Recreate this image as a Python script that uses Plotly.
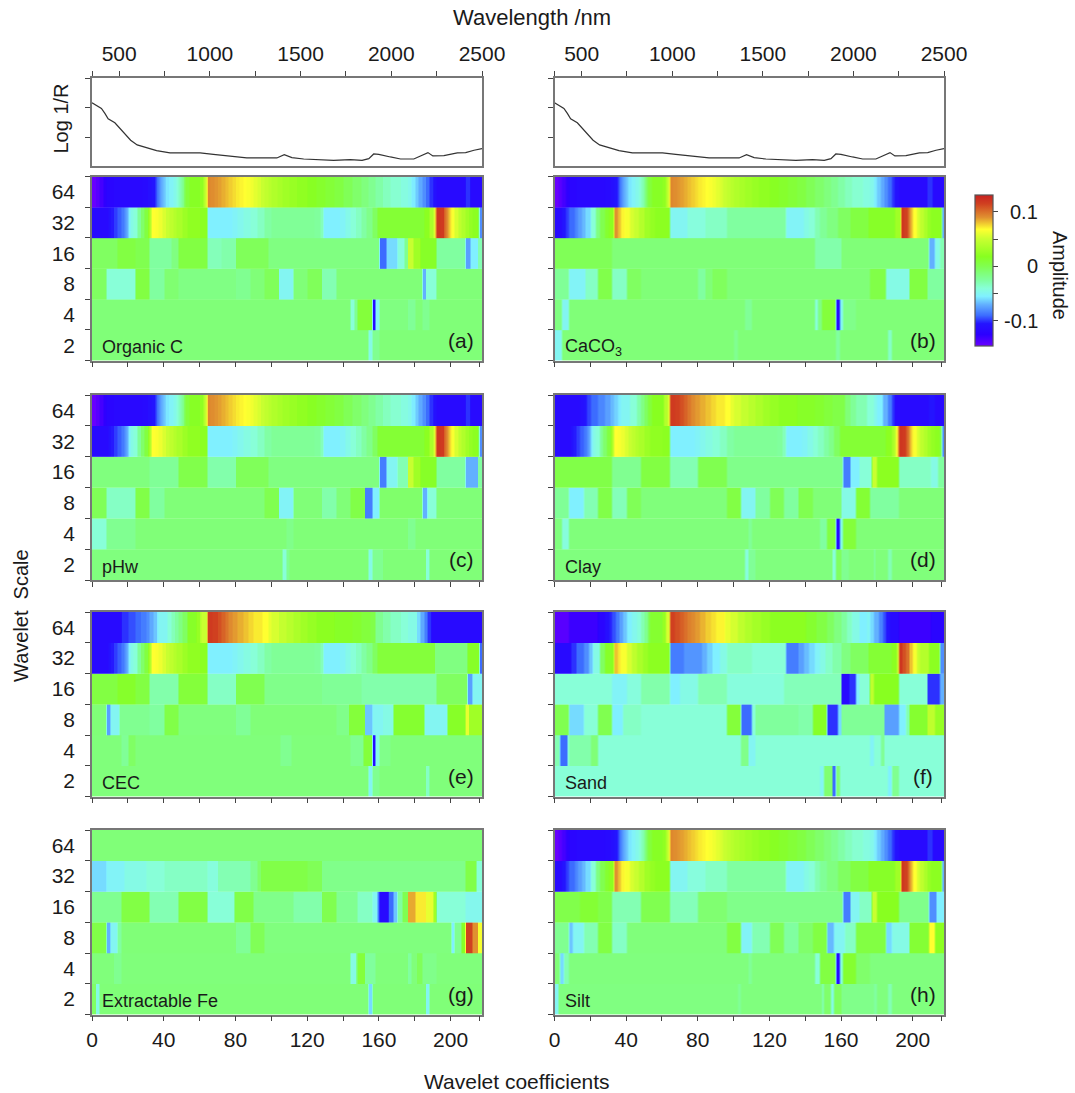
import plotly.graph_objs as go

W, H = 1075, 1093
FONT = 'Liberation Sans'
N_COEF = 218

# reflectance spectrum (same mean curve in both columns)
spectrum_nm = [350, 375, 402, 421, 439, 476, 504, 531, 563, 599, 651, 706, 780, 946, 1019, 1130, 1203, 1369,
               1410, 1452, 1517, 1682, 1774, 1839, 1876, 1903, 1931, 1995, 2051, 2124, 2161, 2202, 2229, 2290,
               2364, 2410, 2456, 2500]
spectrum_log = [2.175, 2.096, 1.983, 1.814, 1.633, 1.497, 1.305, 1.102, 0.91, 0.751, 0.65, 0.559, 0.48, 0.48,
                0.435, 0.367, 0.311, 0.311, 0.424, 0.322, 0.277, 0.232, 0.254, 0.232, 0.288, 0.446, 0.435,
                0.345, 0.277, 0.277, 0.379, 0.492, 0.379, 0.39, 0.48, 0.492, 0.571, 0.627]

# amplitude rows: (first coefficient, amplitude), held until the next pair
tail_64 = [(100, .038), (103, .034), (106, .03), (110, .026), (114, .022), (120, .017), (125, .013), (130, .009), (135, .005),
           (140, -.002), (145, -.008), (150, -.014), (154, -.02), (158, -.027), (162, -.033), (166, -.038), (172, -.043),
           (176, -.047), (178, -.056), (180, -.064), (182, -.072), (184, -.08), (186, -.09), (188, -.1), (190, -.108),
           (192, -.115), (208, -.1), (211, -.115)]
oc_64 = [(0, -.145), (2, -.14), (4, -.133), (6, -.126), (8, -.12), (12, -.117), (28, -.115), (31, -.11), (33, -.105),
         (35, -.095), (36, -.088), (37, -.08), (38, -.072), (39, -.067), (40, -.062), (41, -.057), (43, -.052), (45, -.047),
         (47, -.04), (48, -.033), (49, -.027), (50, -.018), (51, -.005), (52, .008), (54, .016), (60, .022), (62, .04),
         (63, .055), (64, .093), (66, .091), (68, .089), (70, .087), (72, .084), (74, .081), (76, .078), (78, .075),
         (80, .072), (82, .07), (84, .068), (86, .066), (88, .063), (90, .059), (92, .055), (94, .05), (96, .046),
         (98, .042)] + tail_64
mid_32 = [(64, -.055), (78, -.052), (81, -.048), (84, -.044), (88, -.04), (92, -.034), (96, -.026), (100, -.022), (124, -.024),
          (127, -.032), (129, -.055), (138, -.052), (141, -.046), (144, -.04), (147, -.034), (150, -.026), (153, -.018),
          (156, -.005)]
head_32 = [(0, -.115), (9, -.108), (10, -.104), (12, -.098), (14, -.092), (16, -.086), (18, -.078), (19, -.07), (20, -.055),
           (21, -.045), (23, -.04), (25, -.022), (27, -.008), (29, .006), (31, .022), (32, .04), (33, .068), (35, .066),
           (37, .062), (39, .056), (41, .05), (43, .045), (45, .04), (47, .035), (50, .028), (53, .022), (60, .02)]
end_32 = [(159, .01), (185, .02), (188, .035), (190, .055), (191, .08), (192, .12), (194, .118), (196, .105), (197, .095),
          (198, .085), (199, .075), (200, .066), (202, .055), (204, .045), (206, .038), (208, .03), (210, .024), (212, .02),
          (215, 0.0), (216, -.08)]
oc_32 = head_32 + mid_32 + end_32
oc_16 = [(0, -.005), (14, .005), (24, 0.0), (32, -.025), (44, -.015), (48, .005), (64, -.032), (72, -.028), (80, -.003),
         (98, -.015), (160, -.09), (164, -.06), (170, -.042), (174, -.02), (176, .05), (179, .03), (183, .015), (192, -.025),
         (208, -.075), (211, -.055), (215, -.03)]
oc_8 = [(0, -.005), (8, -.04), (24, .005), (32, -.025), (40, -.01), (48, -.016), (80, -.02), (88, -.012), (96, -.003),
        (104, -.05), (112, -.012), (120, -.003), (128, -.03), (136, -.012), (184, -.07), (186, -.04), (192, -.012)]
oc_4 = [(0, -.012), (144, -.04), (146, -.02), (148, .008), (156, -.115), (158, -.05), (160, -.015), (176, -.022),
        (180, -.012), (184, -.02), (188, -.012)]
oc_2 = [(0, -.012), (154, -.045), (156, -.02), (160, -.012)]

ca_64 = oc_64
ca_32 = [(0, -.115), (4, -.105), (6, -.098), (8, -.09), (11, -.082), (13, -.075), (15, -.068), (17, -.06), (20, -.04), (23, -.015),
         (25, 0.0), (28, .012), (30, .02), (33, .09), (35, .08), (37, .07), (39, .065), (42, .055), (44, .05), (47, .04), (50, .03),
         (53, .024), (56, .02), (64, -.05), (74, -.042), (84, -.035), (96, -.025), (129, -.052), (139, -.045), (142, -.04),
         (145, -.03), (148, -.022), (152, -.015), (158, -.005), (165, .005), (175, .015), (190, .03), (193, .12), (195, .115),
         (197, .1), (198, .09), (199, .08), (200, .068), (202, .055), (204, .045), (206, .035), (208, .025), (210, .02), (216, -.07)]
ca_16 = [(0, -.002), (32, -.012), (145, -.028), (160, -.012), (209, -.07), (212, -.045), (215, -.03)]
ca_8 = [(0, -.022), (8, -.052), (17, -.035), (24, .002), (32, -.035), (40, -.005), (48, -.012), (80, -.025), (84, -.012),
        (88, -.004), (96, -.012), (176, .003), (185, -.045), (198, .005), (208, -.025)]
ca_4 = [(0, -.015), (4, -.05), (8, -.012), (106, -.022), (110, -.012), (145, -.04), (147, -.015), (149, .008),
        (157, -.115), (159, -.05), (161, -.018), (168, -.012)]
ca_2 = [(0, -.05), (4, -.012), (100, -.02), (102, -.012), (157, -.025), (159, -.012), (186, -.035), (188, -.012)]

ph_64 = oc_64
ph_32 = oc_32
ph_16 = [(0, -.014), (32, -.022), (48, .002), (64, -.028), (80, -.003), (98, -.015), (160, -.085), (164, -.05), (170, -.03),
         (176, .05), (179, .03), (183, .015), (192, -.025), (208, -.07), (215, -.025)]
ph_8 = [(0, -.002), (8, -.035), (24, .003), (32, -.025), (40, -.012), (96, 0.0), (104, -.052), (112, -.012), (128, -.028),
        (136, -.012), (144, .003), (152, -.085), (156, -.055), (160, -.008), (184, -.07), (187, -.04), (192, -.012)]
ph_4 = [(0, -.04), (8, -.02), (24, -.012), (108, -.018), (112, -.012), (176, -.02), (180, -.012)]
ph_2 = [(0, -.014), (106, -.04), (108, -.02), (110, -.012), (154, -.045), (156, -.02), (162, -.012), (186, -.04), (188, -.012)]

red_64 = [(64, .118), (67, .115), (70, .11), (72, .104), (74, .098), (76, .092), (78, .088), (81, .084), (84, .08), (87, .076),
          (90, .072), (95, .068), (98, .06), (100, .055), (104, .048), (108, .042), (112, .036), (116, .03), (120, .025),
          (125, .02), (135, .015), (145, .012), (150, .007), (155, .003)]
clay_64 = [(0, -.115), (14, -.11), (16, -.105), (18, -.097), (20, -.09), (24, -.082), (28, -.075), (31, -.068), (33, -.062),
           (35, -.056), (37, -.05), (42, -.04), (46, -.028), (48, -.016), (50, -.005), (52, .008), (54, .018), (61, .04),
           (63, .06)] + red_64 + [(162, -.012), (165, -.022), (168, -.03), (174, -.04), (178, -.048), (180, -.055), (183, -.07),
                                  (186, -.085), (188, -.1), (190, -.115), (209, -.105), (212, -.115)]
clay_32 = oc_32
clay_16 = [(0, .003), (32, -.02), (48, .005), (64, -.03), (80, 0.0), (96, -.018), (161, -.085), (165, -.055), (170, -.04),
           (177, .05), (180, .02), (192, -.035), (210, -.045), (214, -.025)]
clay_8 = [(0, -.022), (8, -.055), (16, -.03), (24, .003), (32, -.032), (40, -.002), (48, -.013), (96, .004), (104, -.05),
          (112, -.025), (120, -.002), (128, -.025), (136, 0.0), (144, -.012), (160, -.045), (168, .01), (176, -.025), (192, -.012)]
clay_4 = [(0, -.014), (4, -.042), (8, -.013), (108, -.022), (110, -.013), (148, -.025), (152, .005), (157, -.115),
          (159, -.045), (161, .008), (168, -.012)]
clay_2 = [(0, -.014), (106, -.042), (108, -.022), (112, -.014), (155, -.04), (157, -.005), (160, -.02), (164, -.013),
          (178, -.025), (179, -.013), (186, -.03), (188, -.013)]

cec_64 = [(0, -.115), (16, -.1), (20, -.095), (24, -.09), (27, -.085), (30, -.08), (32, -.072), (34, -.065), (36, -.056),
          (37, -.05), (42, -.04), (44, -.032), (46, -.025), (48, -.015), (50, -.005), (53, .015), (58, .025), (60, .04),
          (61, .05)] + red_64 + [(158, -.02), (162, -.028), (166, -.035), (172, -.04), (176, -.045), (181, -.06), (183, -.072),
                                 (185, -.085), (187, -.1), (189, -.115)]
cec_32 = head_32 + mid_32 + [(159, .008), (191, -.015), (209, .015), (216, -.09)]
cec_16 = [(0, .005), (14, .014), (24, .005), (32, -.028), (48, .008), (64, -.035), (80, 0.0), (96, -.018), (128, -.022),
          (150, -.028), (192, -.005), (209, -.075), (212, -.05)]
cec_8 = [(0, -.012), (8, -.075), (10, -.05), (15, -.02), (32, -.025), (40, .003), (48, -.014), (80, -.022), (88, -.012),
         (136, -.018), (143, .008), (152, -.065), (156, -.05), (162, -.045), (168, .012), (185, -.05), (198, .015),
         (208, .06), (210, .03)]
cec_4 = [(0, -.013), (16, -.022), (20, -.006), (24, -.013), (105, -.02), (111, -.013), (144, -.02), (151, .008),
         (156, -.115), (158, -.045), (160, -.018), (166, -.013)]
cec_2 = [(0, -.013), (154, -.05), (156, -.02), (160, -.013), (186, -.035), (188, -.013)]

sand_64 = [(0, -.14), (8, -.13), (24, -.12), (28, -.11), (30, -.103), (32, -.095), (34, -.085), (36, -.075), (38, -.065),
           (40, -.055), (43, -.048), (46, -.042), (48, -.03), (50, -.02), (52, 0.0), (53, .012), (60, .025), (62, .055),
           (64, .115), (67, .11), (70, .105), (72, .1), (74, .095), (76, .092), (78, .088), (81, .083), (84, .078), (87, .074),
           (90, .07), (95, .06), (98, .054), (102, .045), (106, .038), (110, .032), (115, .026), (120, .02), (140, .012),
           (146, .004), (152, -.005), (156, -.015), (160, -.025), (163, -.035), (166, -.045), (170, -.055), (174, -.05),
           (176, -.06), (178, -.07), (181, -.083), (183, -.095), (185, -.105), (187, -.115), (192, -.13), (210, -.12)]
sand_32 = [(0, -.115), (9, -.1), (12, -.09), (16, -.08), (19, -.065), (21, -.045), (25, -.005), (28, .015), (32, .02),
           (33, .08), (35, .072), (37, .066), (40, .055), (43, .045), (46, .035), (49, .027), (52, .02), (64, -.085), (72, -.078),
           (82, -.07), (85, -.062), (88, -.055), (92, -.045), (96, -.035), (110, -.04), (129, -.085), (136, -.075), (139, -.067),
           (142, -.06), (145, -.052), (148, -.045), (151, -.036), (155, -.028), (160, -.015), (165, -.005), (175, .01), (188, .02),
           (191, .05), (192, .12), (194, .11), (196, .1), (198, .08), (200, .065), (202, .05), (204, .04), (209, .02), (215, -.08)]
sand_16 = [(0, -.04), (32, -.052), (40, -.042), (48, -.028), (64, -.055), (70, -.045), (80, -.03), (96, -.042), (128, -.032),
           (160, -.115), (164, -.1), (168, -.055), (170, -.04), (176, .045), (178, .018), (192, -.04), (208, -.1), (215, -.07)]
sand_8 = [(0, 0.0), (8, -.06), (16, -.04), (24, 0.0), (32, -.055), (38, -.035), (48, -.04), (96, .008), (104, -.09), (110, -.04),
          (112, -.024), (136, -.028), (144, .015), (152, -.1), (158, -.06), (160, -.022), (184, -.075), (192, -.055),
          (196, -.03), (198, .012), (208, .045), (212, .025)]
sand_4 = [(0, -.03), (3, -.09), (7, -.045), (8, -.028), (20, -.012), (24, -.04), (104, -.018), (108, -.05), (112, -.04),
          (176, -.052), (178, -.04), (182, -.022), (184, -.04)]
sand_2 = [(0, -.04), (148, -.05), (150, -.01), (155, -.09), (157, -.012), (159, -.04), (186, -.055), (188, -.02), (192, -.04)]

fe_64 = [(0, -.012)]
fe_32 = [(0, -.06), (8, -.052), (18, -.045), (30, -.04), (40, -.035), (64, -.042), (70, -.03), (88, -.02), (92, -.008), (94, .003),
         (120, -.002), (128, -.018), (208, .003), (214, -.04)]
fe_16 = [(0, -.02), (16, .004), (32, -.03), (48, .004), (64, -.04), (79, .003), (90, -.018), (112, -.028), (128, 0.0),
         (136, -.02), (148, -.035), (156, -.05), (159, -.085), (160, -.115), (165, -.09), (168, -.065), (170, -.025),
         (173, 0.0), (176, .085), (180, .072), (186, .06), (190, .03), (192, -.04), (208, -.048)]
fe_8 = [(0, .003), (8, -.07), (10, -.05), (14, -.025), (16, -.012), (80, -.022), (88, -.002), (96, -.014), (200, -.055),
        (202, -.02), (206, .015), (208, .115), (212, .09), (215, .065)]
fe_4 = [(0, -.013), (12, -.02), (16, -.013), (144, -.045), (147, -.02), (148, .008), (152, -.024), (158, -.013),
        (176, -.025), (178, -.013), (181, -.003), (184, -.018), (192, -.013)]
fe_2 = [(0, -.006), (2, -.045), (4, -.012), (154, -.06), (156, -.012), (186, -.05), (188, -.012)]

silt_64 = oc_64
silt_32 = ca_32
silt_16 = [(0, .002), (14, .01), (24, .002), (32, -.03), (48, 0.0), (64, -.032), (80, -.01), (96, -.018), (161, -.085),
           (165, -.05), (170, -.035), (177, .05), (180, .018), (192, -.018), (209, -.08), (213, -.055)]
silt_8 = [(0, -.02), (8, -.065), (10, -.05), (16, -.03), (24, .004), (32, -.035), (40, -.013), (96, .005), (104, -.052),
          (110, -.03), (120, -.002), (128, -.025), (136, -.008), (144, .005), (152, -.068), (156, -.05), (162, -.035),
          (168, .005), (185, -.06), (188, -.045), (198, .01), (209, .068), (212, .02)]
silt_4 = [(0, -.012), (3, -.06), (5, -.03), (8, -.014), (108, -.022), (110, -.014), (145, -.04), (148, .005), (157, -.115),
          (159, -.04), (161, .012), (168, -.008), (176, -.014)]
silt_2 = [(0, -.05), (2, -.015), (102, -.022), (104, -.014), (149, -.03), (150, -.008), (154, -.045), (156, -.005),
          (160, -.018), (178, -.025), (180, -.014), (186, -.03), (188, -.014)]

scale_labels = ['2', '4', '8', '16', '32', '64']
panel_names = ['Organic C', 'CaCO<sub>3</sub>', 'pHw', 'Clay', 'CEC', 'Sand', 'Extractable Fe', 'Silt']
panel_tags = ['(a)', '(b)', '(c)', '(d)', '(e)', '(f)', '(g)', '(h)']
panel_rows = [
    [oc_2, oc_4, oc_8, oc_16, oc_32, oc_64],
    [ca_2, ca_4, ca_8, ca_16, ca_32, ca_64],
    [ph_2, ph_4, ph_8, ph_16, ph_32, ph_64],
    [clay_2, clay_4, clay_8, clay_16, clay_32, clay_64],
    [cec_2, cec_4, cec_8, cec_16, cec_32, cec_64],
    [sand_2, sand_4, sand_8, sand_16, sand_32, sand_64],
    [fe_2, fe_4, fe_8, fe_16, fe_32, fe_64],
    [silt_2, silt_4, silt_8, silt_16, silt_32, silt_64],
]

# colour stops
zmin, zmax = -0.146, 0.131
color_stops = [(-.146, '#6a00ff'), (-.125, '#2c00ff'), (-.105, '#2414ff'), (-.09, '#3c6cff'), (-.07, '#62b0ff'),
               (-.055, '#80f0ff'), (-.04, '#88ffd8'), (-.025, '#80ffa0'), (-.012, '#80ff78'), (0.0, '#80ff50'),
               (.018, '#88ff20'), (.05, '#c8ff30'), (.068, '#ffff30'), (.09, '#e09030'), (.115, '#d04020'), (.131, '#c82020')]
colorscale = [[(v - zmin) / (zmax - zmin), c] for v, c in color_stops]


def expand(runs):
    row = []
    for i in range(N_COEF):
        val = runs[0][1]
        for start, amp in runs:
            if start <= i:
                val = amp
        row.append(val)
    return row


def fx(px):
    return px / W


def fy(px):
    return 1 - px / H


col_x = [(92, 482), (554.5, 944)]
spec_y = (78, 166)
row_y = [(176.5, 360.5), (395, 580), (612, 796.5), (830, 1014.5)]

line_col = '#777777'
tick_col = '#444444'
txt_col = '#1a1a1a'
font_tick = dict(family=FONT, size=21, color=txt_col)

fig = go.Figure()
layout = {}
n_ax = 0

# spectra on top
for c in range(2):
    n_ax += 1
    fig.add_trace(go.Scatter(x=spectrum_nm, y=spectrum_log, mode='lines', line=dict(color='#333333', width=1.2),
                             showlegend=False, hoverinfo='skip', xaxis=f'x{n_ax}', yaxis=f'y{n_ax}'))
    layout[f'xaxis{n_ax}'] = dict(
        domain=[fx(col_x[c][0]), fx(col_x[c][1])], anchor=f'y{n_ax}', side='top', range=[350, 2500],
        tickmode='array', tickvals=[500, 1000, 1500, 2000, 2500], ticks='outside', ticklen=5, tickcolor=tick_col,
        tickfont=font_tick, showgrid=False, zeroline=False, showline=True, mirror=True, linecolor=line_col, linewidth=1.5,
        ticklabelstandoff=2,
        minor=dict(tickmode='array', tickvals=[350, 750, 1250, 1750, 2250], ticks='outside', ticklen=5,
                   tickcolor=tick_col, showgrid=False))
    layout[f'yaxis{n_ax}'] = dict(
        domain=[fy(spec_y[1]), fy(spec_y[0])], anchor=f'x{n_ax}', range=[0.04, 3.01], tickmode='array',
        tickvals=[1, 2, 3], ticks='outside', ticklen=5, tickcolor=tick_col, showticklabels=False, showgrid=False,
        zeroline=False, showline=True, mirror=True, linecolor=line_col, linewidth=1.5)

# heatmap panels, one trace per scale so that rows keep sharp edges
coef_x = [i + 0.5 for i in range(N_COEF)]
annos = []
for k in range(8):
    r, c = k // 2, k % 2
    n_ax += 1
    for j, runs in enumerate(panel_rows[k]):
        row = expand(runs)
        fig.add_trace(go.Heatmap(x=coef_x, y=[j, j + 0.5, j + 1], z=[row, row], zsmooth='best', coloraxis='coloraxis',
                                 hoverinfo='skip', xaxis=f'x{n_ax}', yaxis=f'y{n_ax}'))
    layout[f'xaxis{n_ax}'] = dict(
        domain=[fx(col_x[c][0]), fx(col_x[c][1])], anchor=f'y{n_ax}', range=[0, 217.5], tickmode='array',
        tickvals=[0, 40, 80, 120, 160, 200], ticks='outside', ticklen=5, tickcolor=tick_col, tickfont=font_tick,
        showticklabels=(r == 3), showgrid=False, zeroline=False, showline=True, mirror=True, linecolor=line_col,
        linewidth=1.5, ticklabelstandoff=1,
        minor=dict(tickmode='array', tickvals=[20, 60, 100, 140, 180, 216], ticks='outside', ticklen=5,
                   tickcolor=tick_col, showgrid=False))
    layout[f'yaxis{n_ax}'] = dict(
        domain=[fy(row_y[r][1]), fy(row_y[r][0])], anchor=f'x{n_ax}', range=[0, 6], tickmode='array',
        tickvals=[0.5, 1.5, 2.5, 3.5, 4.5, 5.5], ticktext=scale_labels, ticks='', tickfont=font_tick,
        showticklabels=(c == 0), showgrid=False, zeroline=False, showline=True, mirror=True, linecolor=line_col,
        linewidth=1.5, ticklabelstandoff=11,
        minor=dict(tickmode='array', tickvals=[0, 1, 2, 3, 4, 5, 6], ticks='outside', ticklen=5,
                   tickcolor=tick_col, showgrid=False))
    annos.append(dict(x=fx(col_x[c][0] + 8), y=fy(row_y[r][1] - 13.5), text=panel_names[k], xanchor='left', yanchor='middle',
                      font=dict(family=FONT, size=18, color=txt_col)))
    annos.append(dict(x=fx(col_x[c][1] - 21), y=fy(row_y[r][1] - 20.5), text=panel_tags[k], xanchor='center', yanchor='middle',
                      font=dict(family=FONT, size=21, color=txt_col)))

# axis titles and colour bar text
annos.append(dict(x=fx(532), y=fy(17), text='Wavelength /nm', xanchor='center', yanchor='middle',
                  font=dict(family=FONT, size=22, color=txt_col)))
annos.append(dict(x=fx(517), y=fy(1081), text='Wavelet coefficients', xanchor='center', yanchor='middle',
                  font=dict(family=FONT, size=21, color=txt_col)))
annos.append(dict(x=fx(21), y=fy(616), text='Wavelet  Scale', textangle=-90, xanchor='center', yanchor='middle',
                  font=dict(family=FONT, size=20, color=txt_col)))
annos.append(dict(x=fx(60), y=fy(118.5), text='Log 1/R', textangle=-90, xanchor='center', yanchor='middle',
                  font=dict(family=FONT, size=20, color=txt_col)))
annos.append(dict(x=fx(1060), y=fy(275), text='Amplitude', textangle=90, xanchor='center', yanchor='middle',
                  font=dict(family=FONT, size=20, color=txt_col)))
for label, ypx in [('0.1', 212), ('0', 266), ('-0.1', 321)]:
    annos.append(dict(x=fx(1040), y=fy(ypx), text=label, xanchor='right', yanchor='middle',
                      font=dict(family=FONT, size=20, color=txt_col)))

fig.update_layout(
    width=W, height=H, margin=dict(l=0, r=0, t=0, b=0, autoexpand=False), paper_bgcolor='white', plot_bgcolor='white',
    showlegend=False, annotations=[dict(a, xref='paper', yref='paper', showarrow=False) for a in annos],
    coloraxis=dict(
        cmin=zmin, cmax=zmax, colorscale=colorscale,
        colorbar=dict(x=fx(975), xanchor='left', y=fy(195), yanchor='top', thickness=18, thicknessmode='pixels',
                      len=151, lenmode='pixels', xpad=0, ypad=0, outlinecolor='#555555', outlinewidth=1.2,
                      tickmode='array', tickvals=[-.1, -.05, 0, .05, .1], ticks='outside', ticklen=5,
                      tickcolor=tick_col, showticklabels=False)),
    **layout)

fig.write_html("out.html", config={'displayModeBar': False},
               post_script="document.body.style.margin='0';document.body.style.overflow='hidden';")
